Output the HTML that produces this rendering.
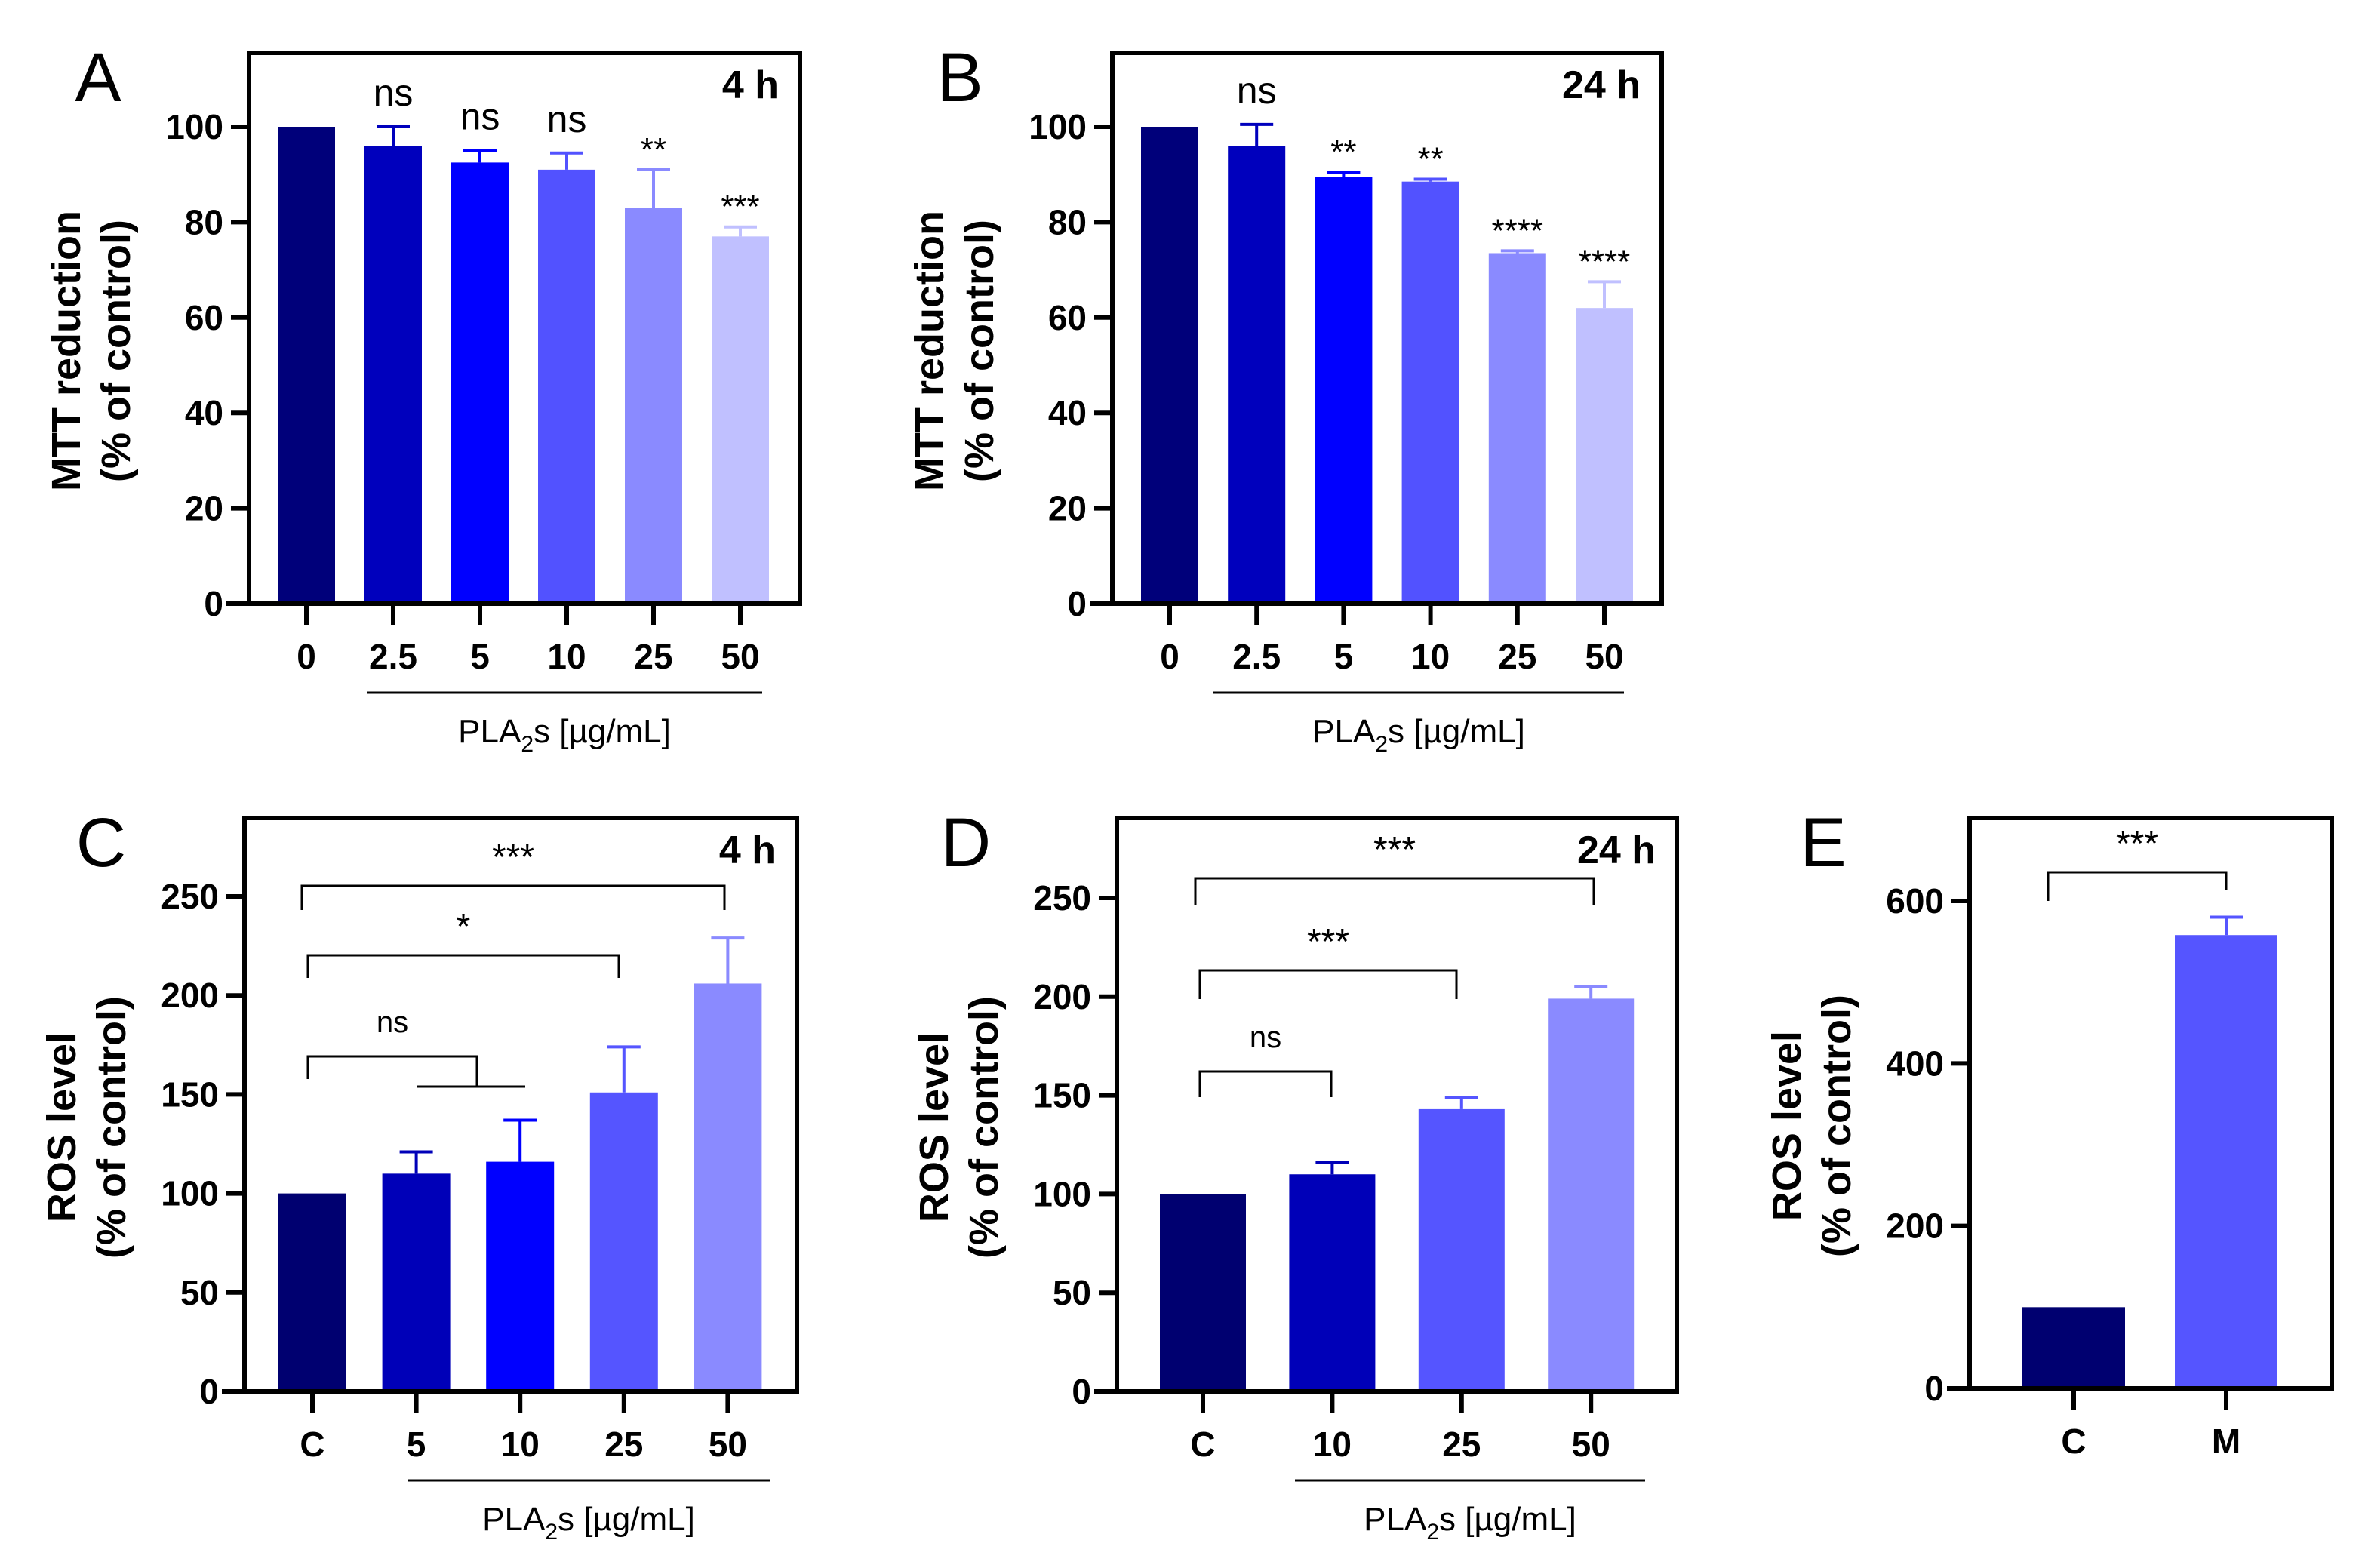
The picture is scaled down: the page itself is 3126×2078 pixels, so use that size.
<!DOCTYPE html>
<html><head><meta charset="utf-8"><style>
html,body{margin:0;padding:0;background:#fff}
svg{display:block}
text{font-family:"Liberation Sans",Arial,sans-serif}
</style></head><body>
<svg id="fig" width="3126" height="2078" viewBox="0 0 1563 1039" xmlns="http://www.w3.org/2000/svg"></svg>
<script>
// ---- data ----
const aCats = ["0","2.5","5","10","25","50"];
const aVals = [100,96,92.5,91,83,77];
const aErr = [100,100,95,94.5,91,79];
const aSig = ["","ns","ns","ns","**","***"];
const bCats = ["0","2.5","5","10","25","50"];
const bVals = [100,96,89.5,88.5,73.5,62];
const bErr = [100,100.5,90.5,89,74,67.5];
const bSig = ["","ns","**","**","****","****"];
const cCats = ["C","5","10","25","50"];
const cVals = [100,110,116,151,206];
const cErr = [100,121,137,174,229];
const dCats = ["C","10","25","50"];
const dVals = [100,110,143,199];
const dErr = [100,116,149,205];
const eCats = ["C","M"];
const eVals = [100,558];
const eErr = [100,580];
const abTicks = [0,20,40,60,80,100];
const cdTicks = [0,50,100,150,200,250];
const eTicks = [0,200,400,600];

const NS="http://www.w3.org/2000/svg";
const svg=document.getElementById('fig');
function mk(tag,attrs,parent){const e=document.createElementNS(NS,tag);for(const k in attrs)e.setAttribute(k,attrs[k]);(parent||svg).appendChild(e);return e;}
function txt(s,x,y,size,weight,parent,anchor){const t=mk('text',{x:x,y:y,'font-size':size,'font-weight':weight||'normal','text-anchor':anchor||'middle','fill':'#000'},parent);t.textContent=s;return t;}

function panel(o){
  const g=mk('g',{});
  
  
  const y=v=>o.y0-(v-0)*(o.y0-o.yRef)/o.vRef;
  const x=i=>o.c0+i*o.step;
  const box=mk('rect',{x:o.L,y:o.T,width:o.R-o.L,height:o.y0-o.T,fill:'none',stroke:'#000','stroke-width':3},g);
  
  
  mk('line',{x1:o.L-15,y1:o.y0,x2:o.R,y2:o.y0,stroke:'#000','stroke-width':3},g);
  o.ticks.forEach(t=>{
    mk('line',{x1:o.L-12,y1:y(t),x2:o.L,y2:y(t),stroke:'#000','stroke-width':3},g);
    const tl=txt(String(t),o.L-17,y(t)+8,23,'bold',g,'end');
    
    
  });
  o.cats.forEach((c,i)=>{
    const bx=x(i)-o.bw/2;
    if(o.err[i]>o.vals[i]){
      mk('line',{x1:x(i),y1:y(o.vals[i]),x2:x(i),y2:y(o.err[i]),stroke:o.colors[i],'stroke-width':2},g);
      mk('line',{x1:x(i)-11,y1:y(o.err[i]),x2:x(i)+11,y2:y(o.err[i]),stroke:o.colors[i],'stroke-width':2},g);
    }
    const r=mk('rect',{x:bx,y:y(o.vals[i]),width:o.bw,height:o.y0-y(o.vals[i])-1.5,fill:o.colors[i]},g);
    
    
    mk('line',{x1:x(i),y1:o.y0,x2:x(i),y2:o.y0+14,stroke:'#000','stroke-width':3},g);
    const tl=txt(c,x(i),o.y0+43,23,'bold',g);
    
    
    if(o.sig&&o.sig[i]){
      const isNs=o.sig[i]==='ns';
      const s=txt(o.sig[i],x(i),y(Math.max(o.err[i],o.vals[i]))-(isNs?8:0)-6,isNs?25:22,'normal',g);
      
      
    }
  });
  const L=txt(o.letter,o.letterX,o.T+32,46,'normal',g);
  
  
  if(o.time){const t=txt(o.time,o.R-14,o.T+30,26,'bold',g,'end');
    
    }
  const cy=(o.T+o.y0)/2+15;
  const t1=txt(o.yt1,0,0,27,'bold',g);t1.setAttribute('transform',`translate(${o.L-112},${cy}) rotate(-90)`);
  
  
  const t2=txt('(% of control)',0,0,27,'bold',g);t2.setAttribute('transform',`translate(${o.L-79},${cy}) rotate(-90)`);
  
  
  if(o.ul){
    mk('line',{x1:o.ul[0],y1:o.y0+59,x2:o.ul[1],y2:o.y0+59,stroke:'#000','stroke-width':1.5},g);
    const p=mk('text',{x:(o.ul[0]+o.ul[1])/2,y:o.y0+92,'font-size':22,'text-anchor':'middle'},g);
    
    
    p.innerHTML='PLA<tspan font-size="15" dy="6">2</tspan><tspan dy="-6">s [µg/mL]</tspan>';
  }
  (o.brackets||[]).forEach(b=>{
    const bg=mk('g',{},g);
    
    
    mk('polyline',{points:`${b[0]},${b[3]} ${b[0]},${b[2]} ${b[1]},${b[2]} ${b[1]},${b[4]}`,fill:'none',stroke:'#000','stroke-width':1.5},bg);
    txt(b[5],(b[0]+b[1])/2+(b[6]||0),b[2]-(b[5]==='ns'?16:11),b[5]==='ns'?20:24,'normal',bg);
    if(b[7])mk('line',{x1:b[7][0],y1:b[7][2],x2:b[7][1],y2:b[7][2],stroke:'#000','stroke-width':1.5},bg);
  });
}
const c6=["#00007a","#0000bd","#0000ff","#5252ff","#8a8aff","#c0c0ff"];
panel({name:'panel-a-chart',letter:'A',letterX:65,L:165,R:530,T:35,y0:400,yRef:84,vRef:100,c0:203,step:57.5,bw:38,
  cats:aCats,vals:aVals,err:aErr,sig:aSig,colors:c6,ticks:abTicks,time:'4 h',yt1:'MTT reduction',ul:[243,505]});
panel({name:'panel-b-chart',letter:'B',letterX:636,L:737,R:1101,T:35,y0:400,yRef:84,vRef:100,c0:775,step:57.6,bw:38,
  cats:bCats,vals:bVals,err:bErr,sig:bSig,colors:c6,ticks:abTicks,time:'24 h',yt1:'MTT reduction',ul:[804,1076]});
panel({name:'panel-c-chart',letter:'C',letterX:67,L:162,R:528,T:542,y0:922,yRef:594,vRef:250,c0:207,step:68.8,bw:45,
  cats:cCats,vals:cVals,err:cErr,colors:["#000070","#0000b8","#0000ff","#5555ff","#8a8aff"],ticks:cdTicks,time:'4 h',yt1:'ROS level',ul:[270,510],
  brackets:[[200,480,587,603,603,'***'],[204,410,633,648,648,'*'],[204,316,700,715,720,'ns',0,[276,348,720]]]});
panel({name:'panel-d-chart',letter:'D',letterX:640,L:740,R:1111,T:542,y0:922,yRef:595,vRef:250,c0:797,step:85.7,bw:57,
  cats:dCats,vals:dVals,err:dErr,colors:["#000070","#0000b8","#5555ff","#8a8aff"],ticks:cdTicks,time:'24 h',yt1:'ROS level',ul:[858,1090],
  brackets:[[792,1056,582,600,600,'***'],[795,965,643,662,662,'***'],[795,882,710,727,727,'ns']]});
panel({name:'panel-e-chart',letter:'E',letterX:1208,L:1305,R:1545,T:542,y0:920,yRef:597,vRef:600,c0:1374,step:101,bw:68,
  cats:eCats,vals:eVals,err:eErr,colors:["#000070","#5555ff"],ticks:eTicks,yt1:'ROS level',
  brackets:[[1357,1475,578,597,590,'***']]});
</script>
</body></html>
